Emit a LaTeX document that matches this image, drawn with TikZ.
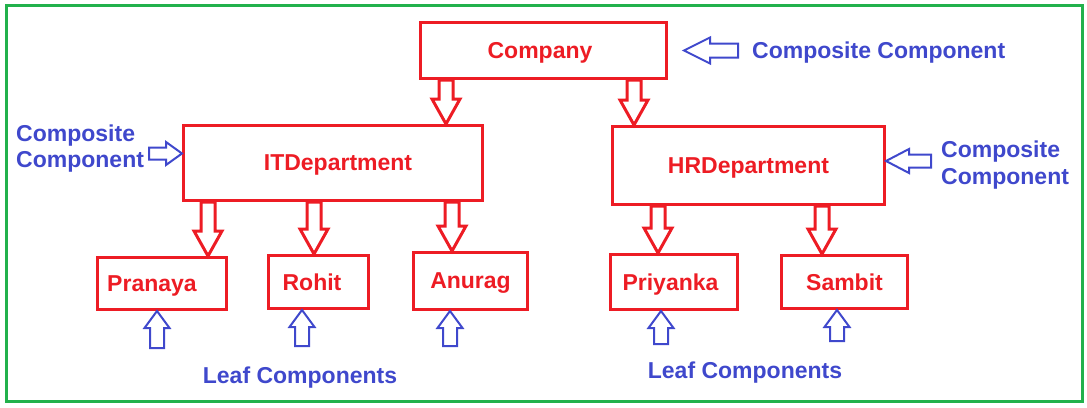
\documentclass[tikz,border=0pt]{standalone}
\usepackage{fontspec}
\setmainfont{Liberation Sans}
\usetikzlibrary{calc}

\begin{document}
\begin{tikzpicture}[x=1pt,y=-1pt]
  % Colors
  \definecolor{boxred}{RGB}{237,28,36}
  \definecolor{labelblue}{RGB}{63,72,204}
  \definecolor{framegreen}{RGB}{34,177,76}

  % Styles
  \tikzstyle{component}=[draw=boxred,line width=3pt,text=boxred,inner sep=0pt,text depth=0pt,font=\bfseries\fontsize{23}{26}\selectfont]
  \tikzstyle{information text}=[text=labelblue,inner sep=0pt,align=left,font=\bfseries\fontsize{23}{26.5}\selectfont]
  \tikzstyle{hollow arrow}=[line join=miter,to path={let \p1=(\tikztostart),\p2=(\tikztotarget),\p3=($(\p2)!\headlen!(\p1)$) in
    ($(\p1)!\shaftw!90:(\p2)$) -- ($(\p3)!\shaftw!90:(\p2)$) -- ($(\p3)!\headw!90:(\p2)$) -- (\p2)
    -- ($(\p3)!\headw!-90:(\p2)$) -- ($(\p3)!\shaftw!-90:(\p2)$) -- ($(\p1)!\shaftw!-90:(\p2)$) -- cycle}]

  % The graphic
  \useasboundingbox (0,0) rectangle (1087,407);
  \draw[framegreen,line width=3pt] (6,5) rectangle (1082,401);

  \node[component,minimum width=246pt,minimum height=56pt] (company) at (543.5,50.5) {\hspace*{-7pt}Company};
  \node[component,minimum width=299pt,minimum height=75pt] (itdept) at (333,163) {\hspace*{10pt}ITDepartment};
  \node[component,minimum width=272pt,minimum height=78pt] (hrdept) at (748.5,165.5) {HRDepartment};

  \node[component,minimum width=129pt,minimum height=52pt] (pranaya) at (162,283.5) {\hspace*{-20pt}Pranaya};
  \node[component,minimum width=100pt,minimum height=53pt] (rohit) at (318.5,282) {\hspace*{-13pt}Rohit};
  \node[component,minimum width=114pt,minimum height=57pt] (anurag) at (470.5,281) {Anurag};
  \node[component,minimum width=127pt,minimum height=55pt] (priyanka) at (674,282) {\hspace*{-7pt}Priyanka};
  \node[component,minimum width=126pt,minimum height=53pt] (sambit) at (844.5,282) {Sambit};

  \node[information text,anchor=west] (cctop) at (752,52.4) {Composite Component};
  \node[information text,anchor=west] (ccleft) at (16,148.5) {Composite\\Component};
  \node[information text,anchor=west] (ccright) at (941,165) {Composite\\Component};
  \node[information text] (leafleft) at (300,377.4) {Leaf Components};
  \node[information text] (leafright) at (745,372.4) {Leaf Components};

  \begin{scope}[draw=boxred,line width=3pt]
    \def\shaftw{7pt}\def\headw{14pt}\def\headlen{25pt}
    \draw[hollow arrow] (446,0 |- company.south) to (446,0 |- itdept.north);
    \draw[hollow arrow] (634,0 |- company.south) to (634,0 |- hrdept.north);
    \draw[hollow arrow] (208,0 |- itdept.south) to (208,0 |- pranaya.north);
    \draw[hollow arrow] (314,0 |- itdept.south) to (314,0 |- rohit.north);
    \draw[hollow arrow] (452,0 |- itdept.south) to (452,0 |- anurag.north);
    \draw[hollow arrow] (658,0 |- hrdept.south) to (658,0 |- priyanka.north);
    \draw[hollow arrow] (822,0 |- hrdept.south) to (822,0 |- sambit.north);
  \end{scope}

  \begin{scope}[draw=labelblue,line width=2pt]
    \def\shaftw{7pt}\def\headw{13pt}\def\headlen{26pt}
    \draw[hollow arrow] ($(cctop.west |- company.east)+(-14,0)$) to ($(company.east)+(16,0)$);
    \def\shaftw{6pt}\def\headw{11.5pt}\def\headlen{16pt}
    \draw[hollow arrow] ($(ccleft.east)+(5,5)$) to ($(itdept.west |- ccleft.east)+(0,5)$);
    \def\shaftw{6.5pt}\def\headw{12pt}\def\headlen{23pt}
    \draw[hollow arrow] ($(ccright.west)+(-10,-4)$) to ($(hrdept.east |- ccright.west)+(0,-4)$);
    \def\shaftw{7pt}\def\headw{12.5pt}\def\headlen{17pt}
    \draw[hollow arrow] ($(pranaya.south)+(-5,37)$) to ($(pranaya.south)+(-5,0)$);
    \draw[hollow arrow] ($(rohit.south)+(-16.5,36)$) to ($(rohit.south)+(-16.5,0)$);
    \draw[hollow arrow] ($(anurag.south)+(-20.5,35)$) to ($(anurag.south)+(-20.5,0)$);
    \draw[hollow arrow] ($(priyanka.south)+(-13,33)$) to ($(priyanka.south)+(-13,0)$);
    \draw[hollow arrow] ($(sambit.south)+(-7.5,31)$) to ($(sambit.south)+(-7.5,0)$);
  \end{scope}
\end{tikzpicture}
\end{document}
